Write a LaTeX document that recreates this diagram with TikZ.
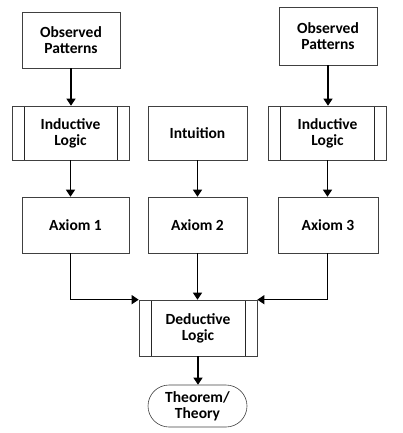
\documentclass[tikz,border=0pt]{standalone}
\usepackage{fontspec}
\setmainfont{Carlito}
\usetikzlibrary{arrows.meta,shapes.misc}

\tikzset{
  box/.style={draw=black!75, line width=0.6pt, align=center, inner sep=0pt,
    font=\fontsize{15.5}{16}\selectfont\bfseries},
  procbox/.style={box, path picture={
      \draw[black!85, line width=0.7pt]
        ([xshift=12pt]path picture bounding box.north west) -- ([xshift=12pt]path picture bounding box.south west)
        ([xshift=-12pt]path picture bounding box.north east) -- ([xshift=-12pt]path picture bounding box.south east);}},
  flow/.style={-{Triangle[width=9pt,length=7pt]}, line width=1.2pt}
}

\begin{document}
\begin{tikzpicture}[x=1pt,y=-1pt]
  \useasboundingbox (0,0) rectangle (403,433);
  % top row
  \node[box, minimum width=98pt, minimum height=56pt] (obsA) at (71,40) {Observed\\Patterns};
  \node[box, minimum width=98pt, minimum height=58pt] (obsB) at (328,36) {Observed\\Patterns};
  % second row
  \node[procbox, minimum width=117pt, minimum height=54pt] (indA) at (70.5,133) {Inductive\\Logic};
  \node[box, minimum width=99pt, minimum height=54pt] (intu) at (197.5,133) {Intuition};
  \node[procbox, minimum width=118pt, minimum height=54pt] (indB) at (327.5,133) {Inductive\\Logic};
  % axioms
  \node[box, minimum width=107pt, minimum height=56pt] (axA) at (75.5,225) {Axiom 1};
  \node[box, minimum width=99pt, minimum height=56pt] (axB) at (197.5,225) {Axiom 2};
  \node[box, minimum width=100pt, minimum height=56pt] (axC) at (328,225) {Axiom 3};
  % bottom
  \node[procbox, minimum width=118pt, minimum height=56pt] (ded) at (198,328) {Deductive\\Logic};
  \node[box, rounded rectangle, minimum width=99pt, minimum height=42pt] (thm) at (197.5,406) {Theorem/\\Theory};

  \draw[flow] (obsA) -- (obsA |- indA.north);
  \draw[flow] (obsB) -- (obsB |- indB.north);
  \draw[flow] (indA) -- (indA |- axA.north);
  \draw[flow] (intu) -- (intu |- axB.north);
  \draw[flow] (indB) -- (indB |- axC.north);
  \draw[flow] (indA |- axA.south) |- (ded.north west);
  \draw[flow] (axB) -- (axB |- ded.north);
  \draw[flow] (indB |- axC.south) |- (ded.north east);
  \draw[flow] (ded) -- (ded |- thm.north);
\end{tikzpicture}
\end{document}
